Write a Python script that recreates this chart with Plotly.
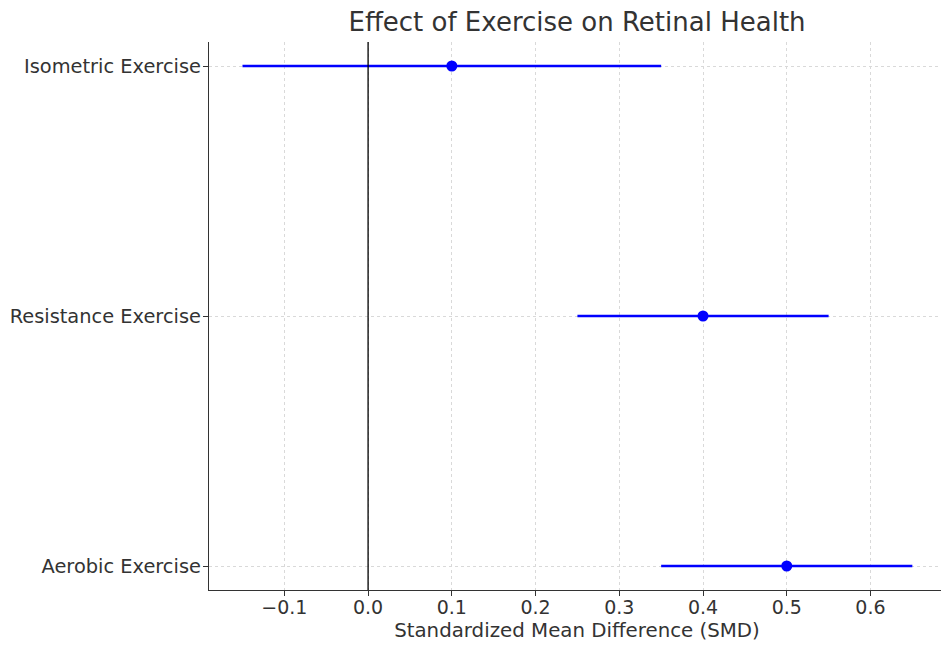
import plotly.graph_objects as go

categories = ["Aerobic Exercise", "Resistance Exercise", "Isometric Exercise"]
smd = [0.5, 0.4, 0.1]
ci_low = [0.35, 0.25, -0.15]
ci_high = [0.65, 0.55, 0.35]
x_ticks = [-0.1, 0.0, 0.1, 0.2, 0.3, 0.4, 0.5, 0.6]
x_tick_labels = ["\u22120.1", "0.0", "0.1", "0.2", "0.3", "0.4", "0.5", "0.6"]

err_plus = [h - m for h, m in zip(ci_high, smd)]
err_minus = [m - l for m, l in zip(smd, ci_low)]
ypos = list(range(len(categories)))

fig = go.Figure()
fig.add_trace(go.Scatter(
    x=smd, y=ypos, mode="markers",
    marker=dict(color="blue", size=11),
    error_x=dict(type="data", array=err_plus, arrayminus=err_minus,
                 color="blue", thickness=2.5, width=0),
    showlegend=False,
))

fig.add_shape(type="line", x0=0, x1=0, y0=0, y1=1, xref="x", yref="paper",
              line=dict(color="black", width=1.3), layer="above")

font = "DejaVu Sans, sans-serif"
fig.update_layout(
    width=941, height=637,
    margin=dict(l=201, r=4, t=34, b=55, autoexpand=False),
    paper_bgcolor="white", plot_bgcolor="white",
    font=dict(family=font, size=19.5, color="#333333"),
    title=dict(text="Effect of Exercise on Retinal Health", x=0.6047, xanchor="center",
               y=0.978, yanchor="middle", font=dict(size=26, color="#333333")),
    xaxis=dict(
        range=[-0.19, 0.689], tickvals=x_ticks, ticktext=x_tick_labels,
        automargin=False, ticklabelstandoff=-5,
        showgrid=True, gridcolor="#d9d9d9", griddash="3px,3px", gridwidth=0.8,
        zeroline=False, showline=True, linecolor="#333333", linewidth=1.3,
        ticks="outside", ticklen=5, tickcolor="#333333",
        title=dict(text="Standardized Mean Difference (SMD)", standoff=6, font=dict(size=19.8)),
        tickfont=dict(size=19),
    ),
    yaxis=dict(
        range=[-0.096, 2.096], tickvals=ypos, ticktext=categories,
        automargin=False, ticklabelstandoff=-2,
        showgrid=True, gridcolor="#d9d9d9", griddash="3px,3px", gridwidth=0.8,
        zeroline=False, showline=True, linecolor="#333333", linewidth=1.3,
        ticks="outside", ticklen=5, tickcolor="#333333",
        tickfont=dict(size=19.4),
    ),
)

fig.write_html("out.html")
